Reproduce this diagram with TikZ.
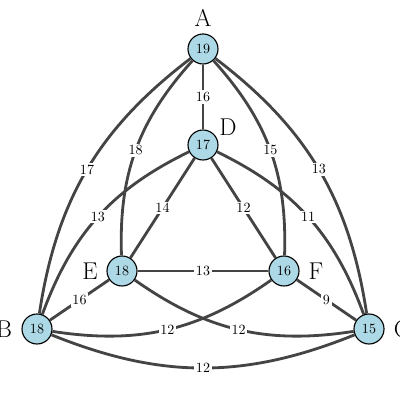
\documentclass[tikz,border=0pt]{standalone}
\usetikzlibrary{positioning}
\definecolor{edgegray}{HTML}{444444}
\definecolor{nodeblue}{HTML}{ADD8E6}
\begin{document}
\begin{tikzpicture}[x=0.025cm,y=0.025cm,
  vert/.style={circle,draw=black,line width=0.8pt,fill=nodeblue,minimum size=0.75cm,inner sep=0pt,font=\normalsize},
  vname/.style={font=\LARGE,inner sep=0pt},
  edge/.style={draw=edgegray,line width=2pt},
  wlab/.style={fill=white,inner sep=1.2pt,font=\normalsize,text=black}]
\useasboundingbox (0,0) rectangle (400,400);
\node[vert] (A) at (203,351) {19};
\node[vert] (D) at (203,255) {17};
\node[vert] (E) at (122,129) {18};
\node[vert] (F) at (284,129) {16};
\node[vert] (B) at (37,71) {18};
\node[vert] (C) at (369,71) {15};
\node[vname] (lA) at (203,382) {A};
\node[vname] (lD) at (228,273) {D};
\node[vname] (lE) at (90,129) {E};
\node[vname] (lF) at (316,129) {F};
\node[vname] (lB) at (4,71) {B};
\node[vname] (lC) at (402,71) {C};
\begin{scope}[every node/.style={wlab}]
\draw[edge] (A) -- node {16} (D);
\draw[edge] (A) to[bend right=22] node {17} (B);
\draw[edge] (A) to[bend right=22] node {18} (E);
\draw[edge] (A) to[bend left=22] node {15} (F);
\draw[edge] (A) to[bend left=22] node {13} (C);
\draw[edge] (D) to[bend right=22] node {13} (B);
\draw[edge] (D) to[bend left=22] node {11} (C);
\draw[edge] (D) -- node {14} (E);
\draw[edge] (D) -- node {12} (F);
\draw[edge] (E) -- node {13} (F);
\draw[edge] (E) -- node {16} (B);
\draw[edge] (F) -- node {9} (C);
\draw[edge] (E) to[bend right=22] node {12} (C);
\draw[edge] (B) to[bend right=22] node {12} (F);
\draw[edge] (B) to[bend right=22] node {12} (C);
\end{scope}
\end{tikzpicture}
\end{document}
